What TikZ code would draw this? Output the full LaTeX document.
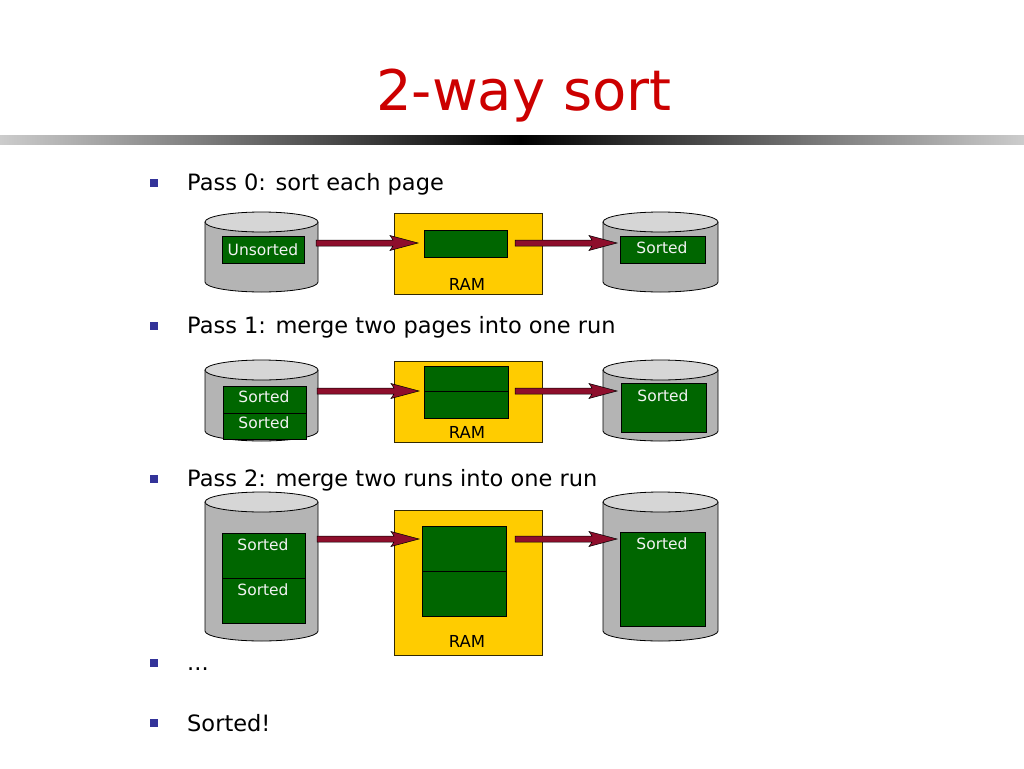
\documentclass[tikz,border=0pt]{standalone}
\usepackage{fontspec}
\setmainfont{DejaVu Sans}
\usetikzlibrary{calc}
\definecolor{titlered}{HTML}{CC0000}
\definecolor{bulletblue}{HTML}{333399}
\definecolor{boxgreen}{HTML}{006600}
\definecolor{ramyellow}{HTML}{FFCC00}
\definecolor{arrowred}{HTML}{8E0E2C}
\definecolor{cylside}{HTML}{B4B4B4}
\definecolor{cyltop}{HTML}{D6D6D6}
\definecolor{boxtxt}{HTML}{F2F2F2}
\tikzset{
  gbox/.style={draw=black, line width=0.8pt, fill=boxgreen, inner sep=0pt, outer sep=0pt, text=boxtxt, font=\fontsize{15.5}{18}\selectfont},
  boxlabel/.style={text=boxtxt, inner sep=0pt, font=\fontsize{15.5}{18}\selectfont},
  rambox/.style={draw=black!80!ramyellow, line width=0.9pt, fill=ramyellow, inner sep=0pt, outer sep=0pt},
  ramlabel/.style={inner sep=0pt, font=\fontsize{16.5}{19}\selectfont},
  cyledge/.style={draw=black, line width=0.8pt},
  redarrow/.style={fill=arrowred, draw=black, line width=0.5pt, line join=miter},
  bulletsq/.style={fill=bulletblue, draw=none, minimum size=8pt, inner sep=0pt, outer sep=0pt},
  bullettext/.style={anchor=base west, inner sep=0pt, font=\fontsize{22.5}{27}\selectfont},
}
% cylinder: name, x1, x2, top, bottom
\newcommand{\drumcyl}[5]{%
  \pgfmathsetmacro\drx{(#3-#2)/2}%
  \pgfmathsetmacro\dcx{(#2+#3)/2}%
  \pgfmathsetmacro\dcy{(#4+#5)/2}%
  \pgfmathsetmacro\dh{#5-#4}%
  \pgfmathsetmacro\dw{#3-#2}%
  \fill[cylside] (#2,#4+10) -- (#2,#5-10) arc[start angle=180,end angle=360,x radius=\drx pt,y radius=10pt] -- (#3,#4+10) -- cycle;
  \draw[cyledge] (#2,#4+10) -- (#2,#5-10) arc[start angle=180,end angle=360,x radius=\drx pt,y radius=10pt] -- (#3,#4+10);
  \draw[cyledge,fill=cyltop] (\dcx,#4+10) ellipse[x radius=\drx pt,y radius=10pt];
  \node[inner sep=0pt,outer sep=0pt,minimum width=\dw pt,minimum height=\dh pt] (#1) at (\dcx,\dcy) {};
}
% arrow between two named coordinates on the same horizontal line
\newcommand{\fatarrow}[2]{%
  \draw[redarrow] ($(#1)+(0,-3)$) -- ($(#2)+(-25,-3)$) -- ($(#2)+(-28,-7.5)$) -- (#2)
     -- ($(#2)+(-28,7.5)$) -- ($(#2)+(-25,3)$) -- ($(#1)+(0,3)$) -- cycle;
}
\begin{document}
\begin{tikzpicture}[x=1pt,y=-1pt]
\useasboundingbox (0,0) rectangle (1024,768);
\fill[white] (0,0) rectangle (1024,768);

% title
\node[text=titlered, font=\fontsize{56}{64}\selectfont, anchor=base, inner sep=0pt] (title) at (524,110) {2-way sort};

% gradient bar
\shade[left color=black!20, right color=black] (0,135) rectangle (520,144);
\shade[left color=black, right color=black!20] (520,135) rectangle (1024,144);

% bullets and text
\node[bulletsq] (b0) at (154,183) {};
\node[bullettext] (t0) at (187,190) {Pass 0: sort each page};
\node[bulletsq] (b1) at (154,326) {};
\node[bullettext] (t1) at (187,333) {Pass 1: merge two pages into one run};
\node[bulletsq] (b2) at (154,479) {};
\node[bullettext] (t2) at (187,486) {Pass 2: merge two runs into one run};
\node[bulletsq] (b3) at (154,663) {};
\node[bullettext] (t3) at (187,670) {...};
\node[bulletsq] (b4) at (154,723) {};
\node[bullettext] (t4) at (187,731) {Sorted!};

% ---------- Row 1 ----------
\drumcyl{c0l}{205}{318}{212}{292}
\node[gbox, minimum width=82pt, minimum height=27pt] (u0) at (263,249.5) {Unsorted};
\node[rambox, minimum width=148pt, minimum height=81pt] (ram0) at (468,253.5) {};
\node[gbox, minimum width=83pt, minimum height=27pt] (m0) at (465.5,243.5) {};
\node[ramlabel] (r0) at (467,284) {RAM};
\drumcyl{c0r}{603}{718}{212}{292}
\node[gbox, minimum width=85pt, minimum height=27pt] (s0) at (662.5,249.5) {};
\node[boxlabel] (s0t) at (662,248) {Sorted};
\coordinate (a0s) at (316,243);
\coordinate (a0e) at (418,243);
\coordinate (a1s) at (515,243);
\coordinate (a1e) at (617,243);
\fatarrow{a0s}{a0e}
\fatarrow{a1s}{a1e}

% ---------- Row 2 ----------
\drumcyl{c1l}{205}{318}{360}{441}
\node[gbox, minimum width=83pt, minimum height=27pt] (p1a) at (264.5,399.5) {};
\node[gbox, minimum width=83pt, minimum height=26pt] (p1b) at (264.5,426) {};
\node[boxlabel] (p1at) at (264,397) {Sorted};
\node[boxlabel] (p1bt) at (264,423) {Sorted};
\node[rambox, minimum width=148pt, minimum height=81pt] (ram1) at (468,401.5) {};
\node[gbox, minimum width=84pt, minimum height=25pt] (m1a) at (466,378.5) {};
\node[gbox, minimum width=84pt, minimum height=27pt] (m1b) at (466,404.5) {};
\node[ramlabel] (r1) at (467,432) {RAM};
\drumcyl{c1r}{603}{718}{360}{441}
\node[gbox, minimum width=85pt, minimum height=49pt] (s1) at (663.5,407.5) {};
\node[boxlabel] (s1t) at (663,396) {Sorted};
\coordinate (a2s) at (317,391);
\coordinate (a2e) at (419,391);
\coordinate (a3s) at (515,391);
\coordinate (a3e) at (617,391);
\fatarrow{a2s}{a2e}
\fatarrow{a3s}{a3e}

% ---------- Row 3 ----------
\drumcyl{c2l}{205}{318}{492}{641}
\node[gbox, minimum width=83pt, minimum height=45pt] (p2a) at (263.5,555.5) {};
\node[gbox, minimum width=83pt, minimum height=45pt] (p2b) at (263.5,600.5) {};
\node[boxlabel] (p2at) at (263,545) {Sorted};
\node[boxlabel] (p2bt) at (263,590) {Sorted};
\node[rambox, minimum width=148pt, minimum height=145pt] (ram2) at (468,582.5) {};
\node[gbox, minimum width=84pt, minimum height=45pt] (m2a) at (464,548.5) {};
\node[gbox, minimum width=84pt, minimum height=45pt] (m2b) at (464,593.5) {};
\node[ramlabel] (r2) at (467,641) {RAM};
\drumcyl{c2r}{603}{718}{492}{641}
\node[gbox, minimum width=85pt, minimum height=94pt] (s2) at (662.5,579) {};
\node[boxlabel] (s2t) at (662,544) {Sorted};
\coordinate (a4s) at (317,539);
\coordinate (a4e) at (419,539);
\coordinate (a5s) at (515,539);
\coordinate (a5e) at (617,539);
\fatarrow{a4s}{a4e}
\fatarrow{a5s}{a5e}
\end{tikzpicture}
\end{document}
